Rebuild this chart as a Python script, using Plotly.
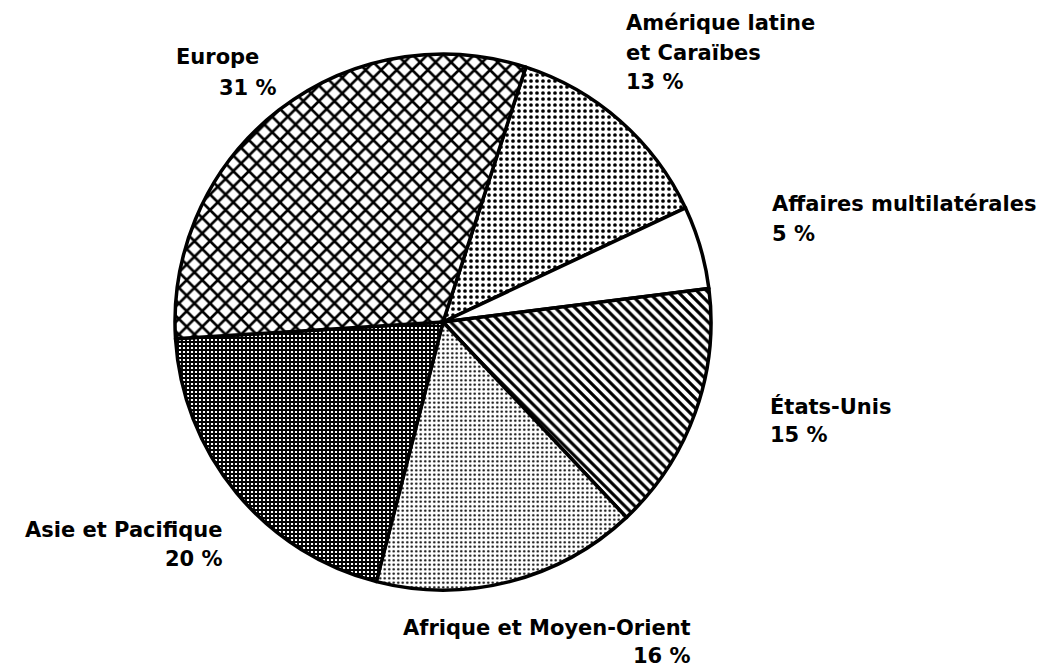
import plotly.graph_objects as go

W, H = 1051, 667

regions = ["Amérique latine et Caraïbes", "Affaires multilatérales", "États-Unis",
           "Afrique et Moyen-Orient", "Asie et Pacifique", "Europe"]
shares = [13, 5, 15, 16, 20, 31]

pattern_shapes = [".", "", "\\", ".", "+", "x"]
pattern_sizes = [6, 8, 7, 4.5, 4, 11]
pattern_solidity = [0.3, 0.01, 0.45, 0.22, 0.72, 0.42]

# label lines: (text, x_px, y_center_px, anchor)
label_lines = [
    ("Europe", 177, 57, "left"),
    ("31 %", 220, 88, "left"),
    ("Amérique latine", 627, 23, "left"),
    ("et Caraïbes", 627, 53, "left"),
    ("13 %", 627, 82, "left"),
    ("Affaires multilatérales", 773, 204, "left"),
    ("5 %", 773, 234, "left"),
    ("États-Unis", 771, 406, "left"),
    ("15 %", 771, 435, "left"),
    ("Asie et Pacifique", 222, 530, "right"),
    ("20 %", 222, 559, "right"),
    ("Afrique et Moyen-Orient", 690, 628, "right"),
    ("16 %", 690, 656, "right"),
]

cx, cy, r = 443, 322, 268
pad = 3

fig = go.Figure(go.Pie(
    labels=regions,
    values=shares,
    sort=False,
    direction="clockwise",
    rotation=18,
    textinfo="none",
    hoverinfo="label+percent",
    marker=dict(
        colors=["white"] * 6,
        line=dict(color="black", width=3.5),
        pattern=dict(
            shape=pattern_shapes,
            size=pattern_sizes,
            solidity=pattern_solidity,
            fgcolor="black",
            bgcolor="white",
            fgopacity=1,
            fillmode="overlay",
        ),
    ),
    domain=dict(x=[(cx - r) / W, (cx + r) / W], y=[1 - (cy + r) / H, 1 - (cy - r) / H]),
    showlegend=False,
))

for text, x, y, anchor in label_lines:
    xp = x - pad if anchor == "left" else x + pad
    fig.add_annotation(
        text=f"<b>{text}</b>", x=xp / W, y=1 - y / H, xref="paper", yref="paper",
        xanchor=anchor, yanchor="middle", showarrow=False,
        font=dict(family="DejaVu Sans", size=21, color="black"),
    )

fig.update_layout(
    width=W, height=H,
    margin=dict(l=0, r=0, t=0, b=0),
    paper_bgcolor="white", plot_bgcolor="white",
)

fig.write_html("out.html", config={"displayModeBar": False},
               post_script="document.body.style.margin='0';document.body.style.overflow='hidden';")
